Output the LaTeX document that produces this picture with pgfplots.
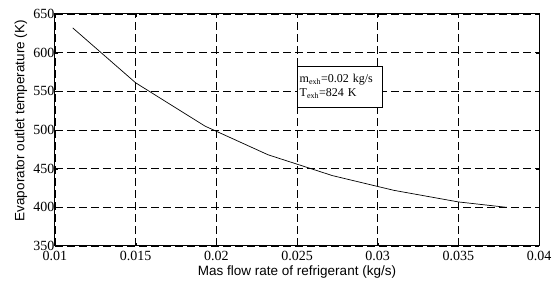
\documentclass[border=0pt]{standalone}
\usepackage{pgfplots}
\pgfplotsset{compat=1.18}
\usetikzlibrary{calc}
\usepackage{fontspec}
\setmainfont{Liberation Serif}
\newfontfamily\arialf{Liberation Sans}
\begin{document}
\begin{tikzpicture}
\begin{axis}[
  name=ax,
  scale only axis,
  width=484pt, height=232pt,
  xmin=0.01, xmax=0.04, ymin=350, ymax=650,
  xtick={0.01,0.015,0.02,0.025,0.03,0.035,0.04},
  ytick={350,400,...,650},
  xticklabels={0.01,0.015,0.02,0.025,0.03,0.035,0.04},
  scaled x ticks=false,
  /pgf/number format/assume math mode=true,
  ticklabel style={font=\fontsize{14}{14}\selectfont},
  grid=major,
  major grid style={black, dash pattern=on 8pt off 4pt, line width=0.6pt},
  axis line style={black, line width=1pt},
  tick style={black},
  tick align=inside,
  major tick length=3pt,
  xlabel={\arialf Mas flow rate of refrigerant (kg/s)},
  ylabel={\arialf Evaporator outlet temperature (K)},
  label style={font=\fontsize{13.5}{13.5}\selectfont},
  xlabel style={at={($(rel axis cs:0.5,0)+(0,-26pt)$)}, anchor=center},
  ylabel style={at={($(rel axis cs:0,0.54)+(-34pt,0)$)}, anchor=center},
  xticklabel style={yshift=-2pt},
  yticklabel style={xshift=2.8pt},
  clip=false,
]
\addplot[black, line width=0.7pt] coordinates {
(0.0111,632) (0.015,561) (0.0193,505) (0.0232,468) (0.0272,441) (0.031,422) (0.035,407) (0.038,400)
};
\node[draw=black, fill=white, anchor=north west, align=left, inner sep=2pt,
  font=\fontsize{12}{13.5}\selectfont, minimum width=85pt, minimum height=41pt, text width=80pt]
  at (axis cs:0.025,583) {m\textsubscript{exh}=0.02 kg/s\\T\textsubscript{exh}=824 K};
\end{axis}
\pgfresetboundingbox
\path ($(ax.south west)+(-55pt,-35pt)$) rectangle ($(ax.north east)+(18pt,14pt)$);
\end{tikzpicture}
\end{document}
